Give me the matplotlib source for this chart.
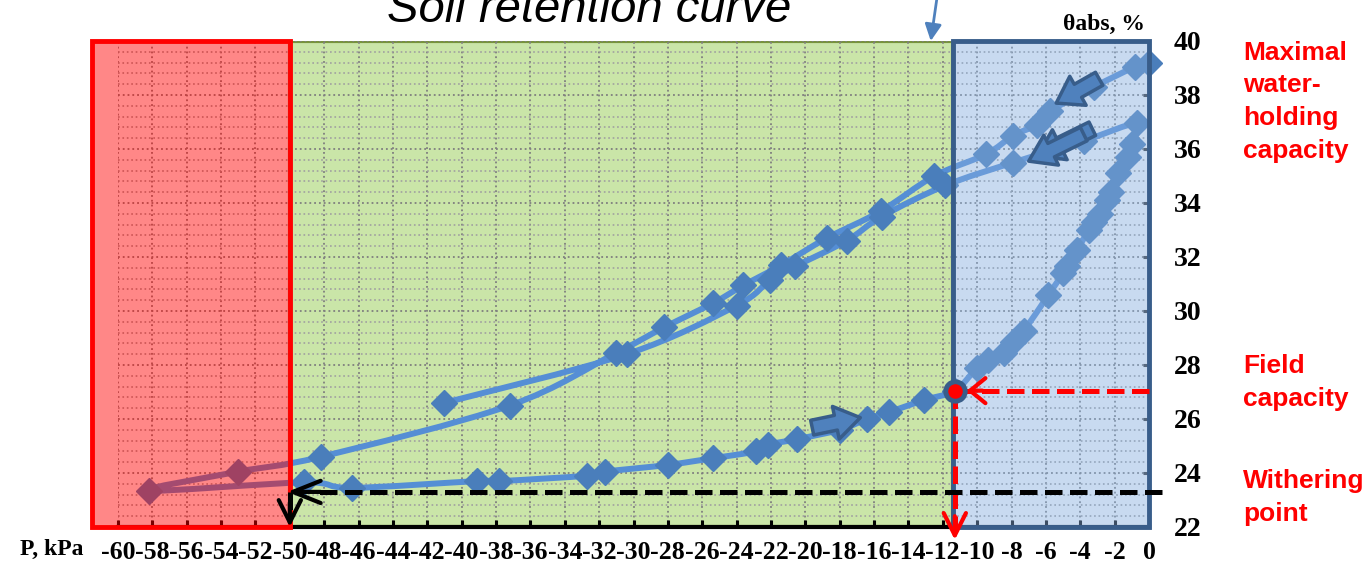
import numpy as np
import matplotlib.pyplot as plt
from matplotlib.patches import Rectangle, PathPatch
from matplotlib.path import Path
from matplotlib.transforms import blended_transform_factory

# suction pressure (kPa) and volumetric water content (%) in measurement order:
# drying from saturation, wetting back to saturation, second drying branch
pressure = [0.0, -0.8, -3.2, -5.75, -6.5, -7.9, -9.5, -12.5, -15.6, -18.75,
            -21.4, -23.6, -25.35, -28.2, -31.0, -37.2, -48.2, -53.0, -58.2,
            -49.2, -46.4, -39.1, -37.8, -32.7, -31.65, -28.0, -25.35, -22.9,
            -22.15, -20.5, -18.0, -16.4, -15.15, -13.1, -11.3, -10.0, -9.35,
            -8.45, -7.9, -7.3, -5.85, -5.0, -4.8, -4.2, -3.5, -3.2, -2.85,
            -2.45, -2.2, -1.8, -1.2, -1.0, -0.7, -3.8, -7.9, -11.85, -15.55,
            -17.6, -20.6, -22.05, -24.0, -30.4, -41.0]
theta = [39.2, 39.05, 38.3, 37.4, 36.9, 36.5, 35.8, 35.0, 33.7, 32.7,
         31.7, 30.95, 30.3, 29.4, 28.45, 26.5, 24.6, 24.05, 23.35,
         23.65, 23.45, 23.7, 23.7, 23.9, 24.05, 24.3, 24.55, 24.8,
         25.05, 25.25, 25.6, 26.0, 26.25, 26.7, 27.05, 27.9, 28.2,
         28.45, 28.85, 29.25, 30.6, 31.4, 31.65, 32.25, 33.0, 33.3, 33.6,
         34.1, 34.4, 35.1, 35.7, 36.2, 36.95, 36.3, 35.5, 34.65, 33.5,
         32.6, 31.65, 31.15, 30.2, 28.4, 26.6]

fc_p, fc_theta = -11.3, 27.05      # field capacity
wp_p, wp_theta = -50.0, 23.3       # withering point

x_ticks = list(range(-60, 1, 2))
y_ticks = list(range(22, 41, 2))

BLUE_LINE = '#558ED5'
BLUE_MARK = '#4A7EBB'
DARK_BLUE = '#385D8A'
SERIF = 'Liberation Serif'
SANS = 'Liberation Sans'


def smooth_path(xs, ys):
    """Cubic Bezier path through the points (Catmull-Rom tangents)."""
    pts = np.column_stack([xs, ys])
    ext = np.vstack([pts[0], pts, pts[-1]])
    verts = [pts[0]]
    codes = [Path.MOVETO]
    for i in range(len(pts) - 1):
        p0, p1, p2, p3 = ext[i], ext[i + 1], ext[i + 2], ext[i + 3]
        verts += [p1 + (p2 - p0) / 6, p2 - (p3 - p1) / 6, p2]
        codes += [Path.CURVE4] * 3
    return Path(verts, codes)


fig = plt.figure(figsize=(13.68, 5.68), dpi=100)
ax = fig.add_axes([118 / 1368, 41 / 568, 1031 / 1368, 486 / 568])
ax.set_xlim(-60, 0)
ax.set_ylim(22, 40)
ax.set_axisbelow(True)

# grid
ax.set_xticks(x_ticks)
ax.set_xticklabels([str(v) for v in x_ticks])
ax.set_yticks(y_ticks)
ax.set_yticklabels([str(v) for v in y_ticks])
ax.set_yticks(np.linspace(22, 40, 46), minor=True)
ax.grid(which='major', ls=':', color='#7F7F7F', lw=1.3)
ax.grid(which='minor', axis='y', ls=':', color='#A0A0A0', lw=1.2)

ax.yaxis.tick_right()
ax.tick_params(axis='x', direction='in', length=5, width=2.2, color='black', pad=10)
ax.tick_params(axis='y', which='major', direction='in', length=4, width=2.2,
               color='#333333', pad=18)
ax.tick_params(axis='y', which='minor', length=0)
for lab in ax.get_xticklabels():
    lab.set_fontfamily(SERIF)
    lab.set_fontweight('bold')
    lab.set_fontsize(18.5)
for lab in ax.get_yticklabels():
    lab.set_fontfamily(SERIF)
    lab.set_fontweight('bold')
    lab.set_fontsize(20)

for side in ['top', 'left', 'right']:
    ax.spines[side].set_visible(False)
ax.spines['bottom'].set_linewidth(3)
ax.spines['bottom'].set_color('black')

# zones
ax.add_patch(Rectangle((-50, 22), 50 + fc_p - 0.1, 18, fc='#CAE5A8', ec='#77933C',
                       lw=3, zorder=0.2))

# retention curve
ax.add_patch(PathPatch(smooth_path(pressure, theta), fill=False, ec=BLUE_LINE, lw=4.3,
                       capstyle='round', joinstyle='round', zorder=2, clip_on=False))
ax.plot(pressure, theta, ls='none', marker='D', ms=13, mfc=BLUE_MARK, mec=BLUE_MARK,
        zorder=3, clip_on=False)

ax.add_patch(Rectangle((-61.5, 22), 11.5, 18, fc=(1, 0, 0, 0.47), ec='#FF0000',
                       lw=3.5, zorder=4, clip_on=False))
ax.add_patch(Rectangle((fc_p - 0.1, 22), -fc_p + 0.1, 18, fc=(0.52, 0.68, 0.87, 0.45),
                       ec=DARK_BLUE, lw=3.5, zorder=4, clip_on=False))

# direction arrows
block = dict(arrowstyle='simple,head_length=0.75,head_width=1.0,tail_width=0.45',
             mutation_scale=24, fc='#4F81BD', ec=DARK_BLUE, lw=2.5, shrinkA=0, shrinkB=0)
ax.annotate('', xy=(-5.4, 37.7), xytext=(-2.9, 38.6), arrowprops=block, zorder=5)
ax.annotate('', xy=(-6.5, 35.75), xytext=(-3.3, 36.75), arrowprops=block, zorder=5)
ax.annotate('', xy=(-7.0, 35.55), xytext=(-3.8, 36.55), arrowprops=block, zorder=5)
ax.annotate('', xy=(-16.8, 26.05), xytext=(-19.6, 25.68), arrowprops=block, zorder=5)

# field capacity and withering point guides
dash = dict(lw=3.6, dashes=(3.5, 1.5), zorder=5, clip_on=False, solid_capstyle='butt')
ax.plot([0, fc_p], [fc_theta, fc_theta], color='red', **dash)
ax.plot([fc_p, fc_p], [fc_theta, 21.8], color='red', **dash)
ax.plot([0.75, wp_p + 1.7], [wp_theta, wp_theta], color='black', **dash)
ax.plot([wp_p, wp_p], [wp_theta, 22.3], color='black', **dash)


def chevron(tip, tail, color, hl, hw):
    ax.annotate('', xy=tip, xytext=tail, annotation_clip=False, zorder=6,
                arrowprops=dict(arrowstyle=f'->,head_length={hl},head_width={hw}',
                                mutation_scale=20, lw=3, color=color,
                                shrinkA=0, shrinkB=0))


chevron((fc_p + 0.7, fc_theta), (fc_p + 1.6, fc_theta), 'red', 0.55, 0.45)
chevron((fc_p, 21.52), (fc_p, 22.4), 'red', 0.8, 0.4)
chevron((wp_p - 0.15, wp_theta), (wp_p + 1.8, wp_theta), 'black', 1.0, 0.4)
chevron((wp_p, 22.0), (wp_p, 22.9), 'black', 0.8, 0.4)

ax.plot(fc_p, fc_theta, 'o', ms=14, mfc='red', mec=DARK_BLUE, mew=3.5, zorder=7,
        clip_on=False)

ax.annotate('', xy=(-12.7, 40.0), xytext=(-12.35, 41.55), annotation_clip=False,
            arrowprops=dict(arrowstyle='-|>,head_length=0.5,head_width=0.25',
                            mutation_scale=20, lw=2, color='#4F81BD',
                            shrinkA=0, shrinkB=0))

# labels
fig.text(589 / 1368, 1 - 22 / 568, 'Soil retention curve', ha='center', va='baseline',
         fontsize=34, style='italic', family=SANS)
fig.text(1145 / 1368, 1 - 30 / 568, 'θabs, %', ha='right', va='baseline',
         fontsize=17, weight='bold', family=SERIF)
fig.text(20 / 1368, 1 - 555 / 568, 'P, kPa', ha='left', va='baseline',
         fontsize=17, weight='bold', family=SERIF)

side = blended_transform_factory(ax.transAxes, ax.transData)
for y, txt in [(37.75, 'Maximal\nwater-\nholding\ncapacity'),
               (27.35, 'Field\ncapacity'),
               (23.1, 'Withering\npoint')]:
    ax.text(1.091, y, txt, transform=side, ha='left', va='center', color='red',
            fontsize=19, weight='bold', family=SANS, linespacing=1.45, clip_on=False)

fig.savefig('out.png', dpi=100)
